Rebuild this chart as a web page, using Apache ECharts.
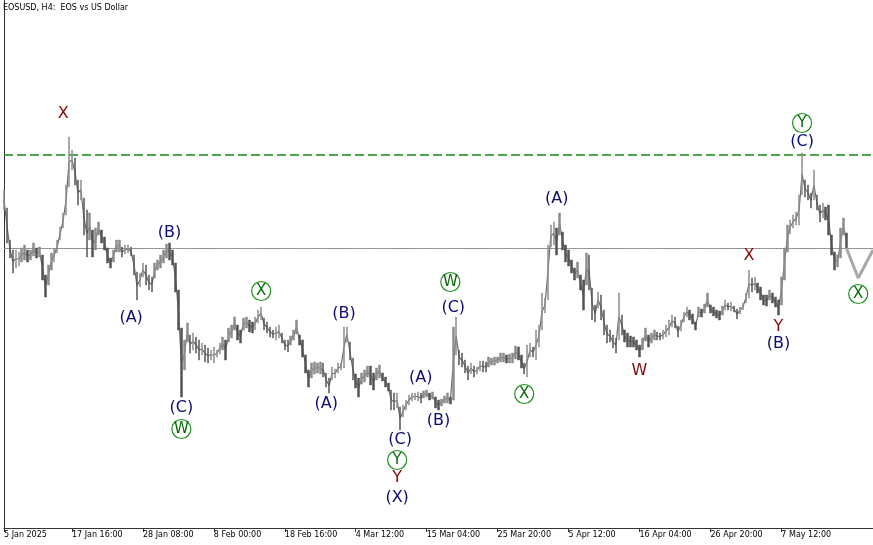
<!DOCTYPE html>
<html>
<head>
<meta charset="utf-8">
<script src="https://cdn.jsdelivr.net/npm/echarts@6/dist/echarts.min.js"></script>
<style>
html,body{margin:0;padding:0;background:#fff;}
#chart{width:873px;height:545px;}
</style>
</head>
<body>
<div id="chart"></div>
<script>
// ---- data (H4 bars, EOSUSD, relative price scale) ----
const highs = [
.810,.792,.760,.750,.750,.748,.752,.755,.750,.750,
.757,.752,.753,.745,.725,.735,.747,.752,.760,.773,
.787,.815,.863,.850,.842,.820,.820,.802,.790,.787,
.770,.772,.778,.770,.763,.752,.742,.750,.760,.760,
.753,.755,.755,.753,.745,.728,.727,.737,.735,.725,
.723,.737,.740,.745,.750,.756,.757,.750,.737,.710,
.672,.660,.677,.665,.667,.663,.660,.657,.655,.652,
.650,.653,.650,.657,.663,.660,.672,.675,.683,.675,
.670,.682,.683,.680,.678,.683,.690,.693,.682,.678,
.673,.670,.673,.675,.667,.660,.660,.664,.670,.680,
.665,.660,.645,.630,.637,.638,.637,.638,.637,.627,
.622,.633,.631,.637,.637,.673,.673,.658,.642,.626,
.622,.627,.630,.634,.634,.627,.632,.635,.627,.623,
.617,.610,.607,.607,.593,.595,.600,.605,.607,.607,
.608,.607,.609,.610,.607,.608,.603,.600,.601,.604,
.607,.603,.673,.683,.650,.647,.640,.634,.637,.634,
.633,.639,.639,.638,.643,.642,.643,.643,.647,.647,
.645,.646,.647,.654,.653,.645,.637,.655,.657,.653,
.670,.675,.707,.702,.755,.775,.778,.772,.787,.768,
.755,.750,.740,.732,.738,.725,.720,.747,.745,.712,
.695,.708,.705,.690,.675,.670,.665,.662,.707,.685,
.670,.667,.664,.663,.660,.655,.662,.672,.665,.667,
.670,.668,.667,.670,.675,.680,.685,.683,.674,.680,
.688,.693,.690,.686,.678,.693,.691,.696,.707,.695,
.693,.690,.689,.694,.700,.697,.698,.694,.691,.693,
.697,.707,.730,.722,.723,.717,.713,.705,.705,.710,
.707,.703,.700,.723,.752,.775,.780,.785,.788,.805,
.847,.820,.815,.807,.830,.805,.795,.797,.793,.795,
.765,.748,.745,.772,.782,.767
];
const lows = [
.790,.757,.742,.727,.732,.734,.738,.740,.738,.740,
.744,.742,.743,.720,.703,.715,.730,.738,.747,.760,
.772,.785,.813,.830,.815,.795,.800,.765,.743,.760,
.743,.750,.765,.757,.750,.737,.732,.738,.748,.748,
.743,.746,.747,.744,.725,.700,.713,.723,.715,.710,
.708,.722,.730,.732,.737,.742,.740,.735,.708,.670,
.603,.630,.658,.647,.650,.647,.640,.645,.638,.637,
.640,.637,.643,.646,.650,.640,.658,.662,.670,.660,
.657,.670,.672,.668,.667,.670,.677,.680,.670,.667,
.663,.662,.660,.662,.657,.650,.648,.655,.660,.666,
.655,.643,.627,.613,.622,.626,.627,.626,.623,.613,
.607,.620,.622,.627,.630,.632,.658,.640,.620,.612,
.603,.616,.618,.623,.615,.610,.620,.622,.619,.613,
.609,.590,.590,.592,.570,.583,.590,.595,.599,.600,
.599,.597,.602,.603,.600,.601,.592,.590,.594,.597,
.597,.596,.600,.645,.635,.633,.627,.620,.626,.623,
.626,.629,.628,.628,.633,.635,.635,.637,.638,.638,
.637,.637,.637,.641,.640,.632,.626,.623,.643,.643,
.640,.653,.670,.687,.700,.753,.755,.745,.765,.750,
.738,.734,.727,.720,.722,.710,.690,.715,.710,.680,
.678,.692,.680,.665,.657,.658,.652,.647,.660,.665,
.658,.653,.653,.653,.650,.643,.650,.659,.653,.657,
.660,.660,.660,.661,.663,.665,.673,.672,.663,.669,
.678,.683,.680,.676,.670,.683,.683,.687,.693,.687,
.684,.682,.680,.685,.690,.690,.689,.688,.681,.686,
.690,.697,.702,.708,.710,.707,.700,.695,.694,.700,
.697,.693,.685,.695,.720,.748,.766,.772,.775,.775,
.805,.803,.800,.792,.800,.790,.778,.782,.780,.765,
.745,.730,.733,.742,.765,.752
];
const slotCount = 295;                 // bar slots on the time axis (incl. projection room)
const tickLabels = ['5 Jan 2025','17 Jan 16:00','28 Jan 08:00','8 Feb 00:00','18 Feb 16:00','4 Mar 12:00','15 Mar 04:00','25 Mar 20:00','5 Apr 12:00','16 Apr 04:00','26 Apr 20:00','7 May 12:00'];
const tickSlots = [0,23,47,71,95,119,143,167,191,215,239,263];
const forecastSlots = [285,289,294];
const forecastVals = [0.752,0.722,0.750];
const resistanceLevel = 0.845;
const bidLevel = 0.7515;
const waveText  = ['X','(B)','(A)','(C)','W','X','(B)','(A)','W','(C)','(A)','(B)','(C)','Y','Y','(X)','X','(A)','W','X','Y','(B)','Y','(C)','X'];
const waveSlot  = [20,56,43,60,60,87,115,109,151,152,141,147,134,133,133,133,176,187,215,252,262,262,270,270,289];
const wavePrice = [.886,.767,.682,.592,.571,.709,.686,.596,.718,.692,.622,.579,.560,.540,.522,.502,.606,.801,.629,.744,.673,.656,.877,.858,.706];
const waveKind  = ['r','n','n','n','g','g','n','n','g','n','n','n','n','g','r','n','g','n','r','r','r','n','g','n','g'];

// ---- build ----
const categories = Array.from({length: slotCount}, (_, i) => String(i));
const candles = highs.map((h, i) => {
  const l = lows[i];
  const mid = (h + l) / 2;
  const prevMid = i > 0 ? (highs[i-1] + lows[i-1]) / 2 : mid;
  return mid >= prevMid ? [l, h, l, h] : [h, l, l, h];
});
const midLine = highs.map((h, i) => (h + lows[i]) / 2);
const forecast = categories.map(() => null);
forecastSlots.forEach((s, k) => { forecast[s] = forecastVals[k]; });
const resistanceLine = categories.map(() => resistanceLevel);
const bidLine = categories.map(() => bidLevel);
const kindColor = {n: '#0c0c72', r: '#850808', g: '#066b06'};
const waveData = waveText.map((t, k) => {
  const g = waveKind[k] === 'g';
  return {
    value: [waveSlot[k], wavePrice[k]],
    name: t,
    symbol: 'circle',
    symbolSize: g ? 19 : 1,
    itemStyle: g ? {color: '#ffffff', borderColor: '#1f8f1f', borderWidth: 1.2, opacity: 1}
                 : {color: 'rgba(0,0,0,0)', borderWidth: 0, opacity: 1},
    label: {color: kindColor[waveKind[k]], fontSize: g ? 15 : 16, opacity: 1}
  };
});
const tickSet = new Set(tickSlots);

const chart = echarts.init(document.getElementById('chart'), null, {renderer: 'canvas'});
chart.setOption({
  animation: false,
  backgroundColor: '#ffffff',
  title: {
    text: 'EOSUSD, H4:  EOS vs US Dollar',
    left: 3, top: 4, padding: 0,
    textStyle: {fontFamily: 'DejaVu Sans', fontSize: 8, fontWeight: 'normal', color: '#000'}
  },
  grid: {left: 4, right: 0, top: 0, bottom: 17, containLabel: false},
  xAxis: {
    type: 'category',
    data: categories,
    boundaryGap: false,
    axisLine: {show: true, lineStyle: {color: '#333', width: 1}},
    axisTick: {show: true, length: 4, interval: (i) => tickSet.has(i), lineStyle: {color: '#333'}},
    axisLabel: {
      show: true,
      interval: (i) => tickSet.has(i),
      formatter: (v) => { const k = tickSlots.indexOf(Number(v)); return k >= 0 ? tickLabels[k] : ''; },
      align: 'left', margin: 3, color: '#000',
      fontFamily: 'DejaVu Sans', fontSize: 8
    },
    splitLine: {show: false}
  },
  yAxis: {
    type: 'value', min: 0.472, max: 1.0,
    axisLine: {show: true, lineStyle: {color: '#333', width: 1}},
    axisTick: {show: false}, axisLabel: {show: false}, splitLine: {show: false}
  },
  series: [
    {
      type: 'line', data: bidLine, symbol: 'none', silent: true,
      lineStyle: {color: '#8f8f8f', width: 1, type: 'solid'}, z: 1
    },
    {
      type: 'line', data: resistanceLine, symbol: 'none', silent: true,
      lineStyle: {color: '#0f8a0f', width: 1.4, type: [9, 4]}, z: 1
    },
    {
      type: 'candlestick',
      data: candles,
      barWidth: 2,
      itemStyle: {color: '#8c8c8c', color0: '#545454', borderColor: '#8c8c8c', borderColor0: '#545454', borderWidth: 0.5},
      z: 2
    },
    {
      type: 'line',
      data: midLine,
      symbol: 'none',
      lineStyle: {color: '#6a6a6a', width: 1.2},
      z: 2
    },
    {
      type: 'line',
      data: forecast,
      connectNulls: true,
      symbol: 'none',
      lineStyle: {color: '#a8a8a8', width: 3},
      z: 3
    },
    {
      type: 'scatter',
      data: waveData,
      itemStyle: {opacity: 1},
      label: {show: true, position: 'inside', formatter: (p) => p.name, fontFamily: 'DejaVu Sans'},
      emphasis: {disabled: true},
      z: 5
    }
  ]
});
</script>
</body>
</html>
